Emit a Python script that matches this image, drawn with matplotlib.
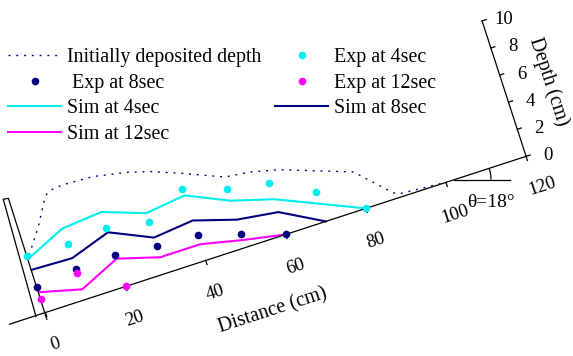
import matplotlib.pyplot as plt
from matplotlib.transforms import Affine2D
from matplotlib.patches import Arc

plt.rcParams['font.family'] = ['Liberation Serif', 'DejaVu Serif']

# distance along the slope (cm) and depth normal to it (cm)
dist_init = [0.5, 2.3, 4.7, 7.5, 9.0, 10.9, 13.3, 20.7, 28.6, 33.9, 41.3, 50.5,
             56.5, 63.4, 79.9, 81.7, 87.3, 88.8, 100]
depth_init = [4.2, 4.9, 5.9, 7.3, 7.9, 8.1, 8.15, 8.05, 7.6, 7.15, 6.3, 5.15,
              4.95, 4.45, 2.7, 2.15, 0.45, 0.25, 0.0]

dist_exp4 = [0, 10, 20, 30, 40, 50, 60, 70, 80]
exp4 = [4.2, 4.1, 4.35, 3.8, 5.3, 4.35, 3.8, 2.2, 0.0]
dist_exp8 = [0, 10, 20, 30, 40, 50, 60]
exp8 = [1.9, 2.25, 2.35, 2.0, 1.85, 1.0, 0.0]
dist_exp12 = [0, 10, 20]
exp12 = [1.0, 1.95, 0.0]

dist_sim4 = [0, 10, 20, 30, 40, 50, 60, 80]
sim4 = [3.95, 5.25, 5.5, 4.45, 4.8, 3.45, 2.6, 0.0]
dist_sim8 = [0, 10, 20, 30, 40, 50, 60, 70]
sim8 = [3.15, 3.05, 4.0, 2.65, 2.95, 2.05, 1.65, 0.0]
dist_sim12 = [0, 10, 20, 30, 40, 50, 60]
sim12 = [1.5, 0.75, 2.05, 1.2, 1.2, 0.55, 0.0]

# end wall of the flume
wall_d = [-2.45, -1.23, 0.0, -0.2]
wall_h = [-0.07, 8.48, 8.43, -0.48]

dist_ticks = [0, 20, 40, 60, 80, 100, 120]
depth_ticks = [0, 2, 4, 6, 8, 10]
slope_deg = 18

fig = plt.figure(figsize=(5.73, 3.56), dpi=100)
ax = fig.add_axes([0, 0, 1, 1])
ax.set_xlim(0, 573)
ax.set_ylim(0, 356)
ax.axis('off')

# slope frame: x = distance, y = depth (exaggerated), tilted by 18 deg
slope_tf = Affine2D().scale(4.211, 14.24).rotate_deg(slope_deg).translate(45.5, 43.5)
tr = slope_tf + ax.transData

navy = '#000080'
cyan = '#00EEEE'
magenta = '#FF00FF'

h_init, = ax.plot(dist_init, depth_init, color=navy, lw=1.0, ls=(0, (1.4, 4.2)),
                  transform=tr, label='Initially deposited depth')
h_sim4, = ax.plot(dist_sim4, sim4, color=cyan, lw=1.5, transform=tr, label='Sim at 4sec')
h_sim8, = ax.plot(dist_sim8, sim8, color=navy, lw=1.5, transform=tr, label='Sim at 8sec')
h_sim12, = ax.plot(dist_sim12, sim12, color=magenta, lw=1.5, transform=tr, label='Sim at 12sec')
h_exp4, = ax.plot(dist_exp4, exp4, 'o', color=cyan, ms=5.5, mew=0, transform=tr,
                  zorder=3, label='Exp at 4sec')
h_exp8, = ax.plot(dist_exp8, exp8, 'o', color=navy, ms=5.5, mew=0, transform=tr,
                  zorder=3, label=' Exp at 8sec')
h_exp12, = ax.plot(dist_exp12, exp12, 'o', color=magenta, ms=5.5, mew=0, transform=tr,
                   zorder=3, label='Exp at 12sec')

ax.plot(wall_d, wall_h, color='black', lw=0.9, transform=tr)

# distance axis
ax.plot([-9, 120], [0, 0], color='black', lw=0.9, transform=tr)
for d in dist_ticks:
    ax.plot([d, d], [0, -0.3], color='black', lw=0.9, transform=tr)
    shift = 1.6 if d == 120 else 0
    ax.text(d - 0.2 + shift, -2.35, str(d), transform=tr, rotation=slope_deg,
            ha='center', va='center', fontsize=13.5)
ax.text(51.6, -4.8, 'Distance (cm)', transform=tr, rotation=slope_deg,
        ha='center', va='center', fontsize=14.5)

# depth axis
ax.plot([120, 120], [0, 10], color='black', lw=0.9, transform=tr)
for h in depth_ticks:
    ax.plot([120, 121], [h, h], color='black', lw=0.9, transform=tr)
    ax.text(125, h - 0.4, str(h), transform=tr, ha='center', va='center', fontsize=13.5)
ax.text(130.5, 4.5, 'Depth (cm)', transform=tr, rotation=slope_deg - 90,
        ha='center', va='center', fontsize=14.5)

# slope angle marker
vx, vy = slope_tf.transform((102, 0))
ax.plot([vx, vx + 56], [vy, vy], color='black', lw=0.9)
ax.add_patch(Arc((vx, vy), 74, 74, theta1=0, theta2=slope_deg, color='black', lw=0.9))
ax.text(vx + 37, vy - 23, 'θ=18°', ha='center', va='center', fontsize=14)

handles = [h_init, h_exp8, h_sim4, h_sim12, h_exp4, h_exp12, h_sim8]
ax.legend(handles=handles, loc='upper left', bbox_to_anchor=(8, 308),
          bbox_transform=ax.transData, ncol=2, frameon=False, fontsize=14.4,
          borderpad=0, borderaxespad=0, handlelength=2.65, handletextpad=0.3,
          columnspacing=0.7, labelspacing=0.33, numpoints=1)

fig.savefig('out.png', dpi=100)
